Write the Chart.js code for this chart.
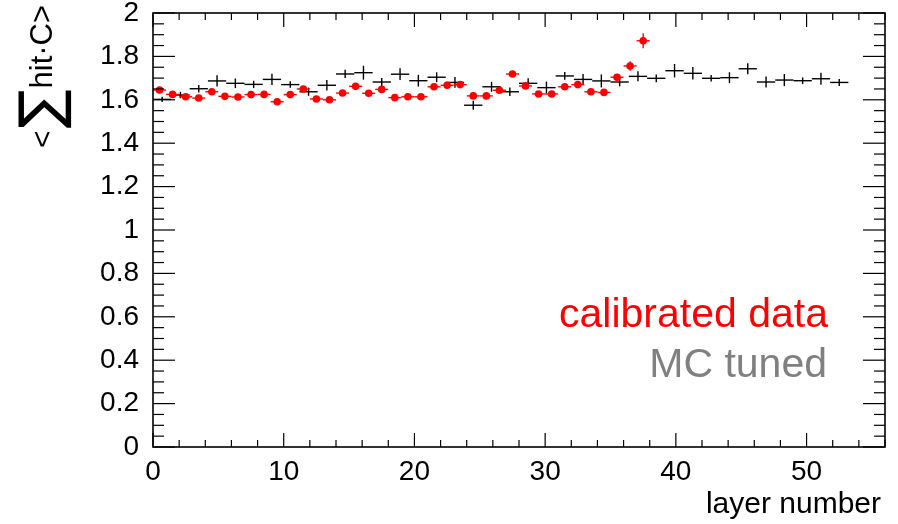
<!DOCTYPE html>
<html>
<head>
<meta charset="utf-8">
<script src="https://cdn.jsdelivr.net/npm/chart.js@4"></script>
<style>
  html, body { margin: 0; padding: 0; background: #fff; }
  #wrap { width: 898px; height: 524px; }
</style>
</head>
<body>
<div id="wrap"><canvas id="layerChart"></canvas></div>
<script>
// calibrated data: one point per layer
const dataLayers = [0.5, 1.5, 2.5, 3.5, 4.5, 5.5, 6.5, 7.5, 8.5, 9.5, 10.5, 11.5, 12.5, 13.5, 14.5, 15.5, 16.5, 17.5, 18.5, 19.5,
  20.5, 21.5, 22.5, 23.5, 24.5, 25.5, 26.5, 27.5, 28.5, 29.5, 30.5, 31.5, 32.5, 33.5, 34.5, 35.5, 36.5, 37.5];
const dataValues = [1.645, 1.625, 1.614, 1.608, 1.637, 1.616, 1.613, 1.624, 1.625, 1.591, 1.624, 1.650, 1.604, 1.600, 1.631, 1.662, 1.630, 1.648, 1.610, 1.614,
  1.614, 1.660, 1.667, 1.670, 1.618, 1.618, 1.644, 1.719, 1.664, 1.627, 1.627, 1.660, 1.670, 1.637, 1.634, 1.704, 1.756, 1.872];
const dataErrors = [0.006, 0.006, 0.006, 0.006, 0.006, 0.006, 0.006, 0.006, 0.006, 0.006, 0.006, 0.006, 0.006, 0.006, 0.006, 0.006, 0.006, 0.006, 0.006, 0.006,
  0.006, 0.006, 0.006, 0.006, 0.006, 0.006, 0.006, 0.012, 0.006, 0.006, 0.006, 0.006, 0.006, 0.006, 0.006, 0.015, 0.022, 0.035];
const dataHalfWidth = 0.5;

// MC tuned
const mcLayers = [0.7, 2.1, 3.5, 4.9, 6.3, 7.7, 9.1, 10.5, 11.9, 13.3, 14.7, 16.1, 17.5, 18.9, 20.3, 21.7, 23.1, 24.5, 25.9, 27.3,
  28.7, 30.1, 31.5, 32.9, 34.3, 35.7, 37.1, 38.5, 39.9, 41.3, 42.7, 44.1, 45.5, 46.9, 48.3, 49.7, 51.1, 52.5];
const mcValues = [1.602, 1.622, 1.651, 1.687, 1.676, 1.671, 1.694, 1.670, 1.637, 1.667, 1.719, 1.725, 1.682, 1.718, 1.688, 1.704, 1.680, 1.575, 1.660, 1.637,
  1.676, 1.656, 1.710, 1.694, 1.687, 1.682, 1.708, 1.699, 1.734, 1.722, 1.699, 1.702, 1.743, 1.682, 1.691, 1.688, 1.697, 1.680];
const mcErrors = [0.012, 0.015, 0.017, 0.026, 0.022, 0.017, 0.026, 0.015, 0.019, 0.024, 0.019, 0.032, 0.019, 0.027, 0.027, 0.023, 0.025, 0.021, 0.023, 0.020,
  0.023, 0.028, 0.018, 0.025, 0.030, 0.020, 0.023, 0.018, 0.031, 0.029, 0.015, 0.025, 0.025, 0.025, 0.028, 0.015, 0.028, 0.016];
const mcHalfWidth = 0.7;

const xTicks = [0, 10, 20, 30, 40, 50];
const yTicks = [0, 0.2, 0.4, 0.6, 0.8, 1, 1.2, 1.4, 1.6, 1.8, 2];
const yTickLabels = ['0', '0.2', '0.4', '0.6', '0.8', '1', '1.2', '1.4', '1.6', '1.8', '2'];
const xMinorStep = 2;
const yMinorStep = 0.05;

const FONT = '"Liberation Sans", Arial, Helvetica, sans-serif';

function line(ctx, x1, y1, x2, y2) {
  ctx.beginPath();
  ctx.moveTo(x1, y1);
  ctx.lineTo(x2, y2);
  ctx.stroke();
}

// horizontal + vertical error bars, placed through the chart scales
const errorBars = {
  id: 'errorBars',
  beforeDatasetsDraw(chart) {
    const ctx = chart.ctx;
    const x = chart.scales.x, y = chart.scales.y;
    ctx.save();
    chart.data.datasets.forEach(ds => {
      ctx.strokeStyle = ds.barColor;
      ctx.lineWidth = 1.4;
      ds.data.forEach((p, i) => {
        const px = x.getPixelForValue(p.x);
        const py = y.getPixelForValue(p.y);
        line(ctx, x.getPixelForValue(p.x - ds.halfWidth), py, x.getPixelForValue(p.x + ds.halfWidth), py);
        line(ctx, px, y.getPixelForValue(p.y - ds.errors[i]), px, y.getPixelForValue(p.y + ds.errors[i]));
      });
    });
    ctx.restore();
  }
};

// ROOT-like frame with inward ticks on all four sides, legend text, axis titles
const frame = {
  id: 'frame',
  afterDraw(chart) {
    const ctx = chart.ctx;
    const x = chart.scales.x, y = chart.scales.y;
    const {left, right, top, bottom} = chart.chartArea;
    ctx.save();
    ctx.strokeStyle = '#000';
    ctx.lineWidth = 1.2;
    for (let v = 0; v <= x.max + 1e-9; v += xMinorStep) {
      const px = x.getPixelForValue(v);
      const len = xTicks.includes(v) ? 14 : 7;
      line(ctx, px, bottom, px, bottom - len);
      line(ctx, px, top, px, top + len);
    }
    for (let k = 0; k * yMinorStep <= y.max + 1e-9; k++) {
      const v = k * yMinorStep;
      const py = y.getPixelForValue(v);
      const len = (k % 4 === 0) ? 22 : 11;
      line(ctx, left, py, left + len, py);
      line(ctx, right, py, right - len, py);
    }
    ctx.lineWidth = 1.6;
    ctx.strokeRect(left, top, right - left, bottom - top);

    // legend text
    ctx.textAlign = 'right';
    ctx.textBaseline = 'alphabetic';
    ctx.font = '41px ' + FONT;
    ctx.fillStyle = '#ff0000';
    ctx.fillText('calibrated data', 828, 327);
    ctx.fillStyle = '#808080';
    ctx.fillText('MC tuned', 827, 377);

    // x axis title
    ctx.fillStyle = '#000';
    ctx.font = '30px ' + FONT;
    ctx.fillText('layer number', 881, 513);

    // y axis title  < sum hit·C >
    ctx.translate(52, 148);
    ctx.rotate(-Math.PI / 2);
    ctx.textAlign = 'left';
    ctx.font = '30px ' + FONT;
    let pos = 0;
    ctx.fillText('<', pos, 0);
    pos += ctx.measureText('<').width + 2;
    ctx.font = '60px "DejaVu Sans"';
    const m = ctx.measureText('\u2211');
    const k = 54 / (m.actualBoundingBoxAscent + m.actualBoundingBoxDescent);
    ctx.font = (60 * k).toFixed(1) + 'px "DejaVu Sans"';
    const m2 = ctx.measureText('\u2211');
    ctx.fillText('\u2211', pos + m2.actualBoundingBoxLeft, 20 - m2.actualBoundingBoxDescent);
    pos += m2.actualBoundingBoxLeft + m2.actualBoundingBoxRight + 2;
    ctx.font = '31px ' + FONT;
    ctx.fillText('hit\u00b7C', pos, 0);
    pos += ctx.measureText('hit\u00b7C').width;
    ctx.fillText('>', pos, 0);
    ctx.restore();
  }
};

const ctx = document.getElementById('layerChart').getContext('2d');

new Chart(ctx, {
  type: 'scatter',
  data: {
    datasets: [
      {
        label: 'MC tuned',
        data: mcLayers.map((l, i) => ({x: l, y: mcValues[i]})),
        errors: mcErrors,
        halfWidth: mcHalfWidth,
        barColor: '#000000',
        pointRadius: 0,
        pointHoverRadius: 0,
      },
      {
        label: 'calibrated data',
        data: dataLayers.map((l, i) => ({x: l, y: dataValues[i]})),
        errors: dataErrors,
        halfWidth: dataHalfWidth,
        barColor: '#ff0000',
        pointRadius: 3.8,
        pointBackgroundColor: '#ff0000',
        pointBorderColor: '#ff0000',
        pointBorderWidth: 0,
      },
    ],
  },
  options: {
    responsive: true,
    maintainAspectRatio: false,
    devicePixelRatio: 1,
    animation: false,
    events: [],
    layout: { padding: { top: 13, right: 13, left: 0, bottom: 0 } },
    scales: {
      x: {
        type: 'linear',
        min: 0,
        max: 56,
        afterBuildTicks: s => { s.ticks = xTicks.map(v => ({value: v})); },
        afterFit: s => { s.height = 77; s.paddingLeft = 0; s.paddingRight = 0; },
        grid: { display: false, drawTicks: false },
        border: { display: false },
        ticks: {
          color: '#000',
          font: { family: FONT, size: 28 },
          padding: 8,
          maxRotation: 0,
          autoSkip: false,
          callback: v => String(v),
        },
      },
      y: {
        min: 0,
        max: 2,
        afterBuildTicks: s => { s.ticks = yTicks.map(v => ({value: v})); },
        afterFit: s => { s.width = 153; s.paddingTop = 0; s.paddingBottom = 0; },
        grid: { display: false, drawTicks: false },
        border: { display: false },
        ticks: {
          color: '#000',
          font: { family: FONT, size: 28 },
          padding: 14,
          autoSkip: false,
          callback: (v, i) => yTickLabels[i],
        },
      },
    },
    plugins: {
      legend: { display: false },
      tooltip: { enabled: false },
    },
  },
  plugins: [errorBars, frame],
});
</script>
</body>
</html>
